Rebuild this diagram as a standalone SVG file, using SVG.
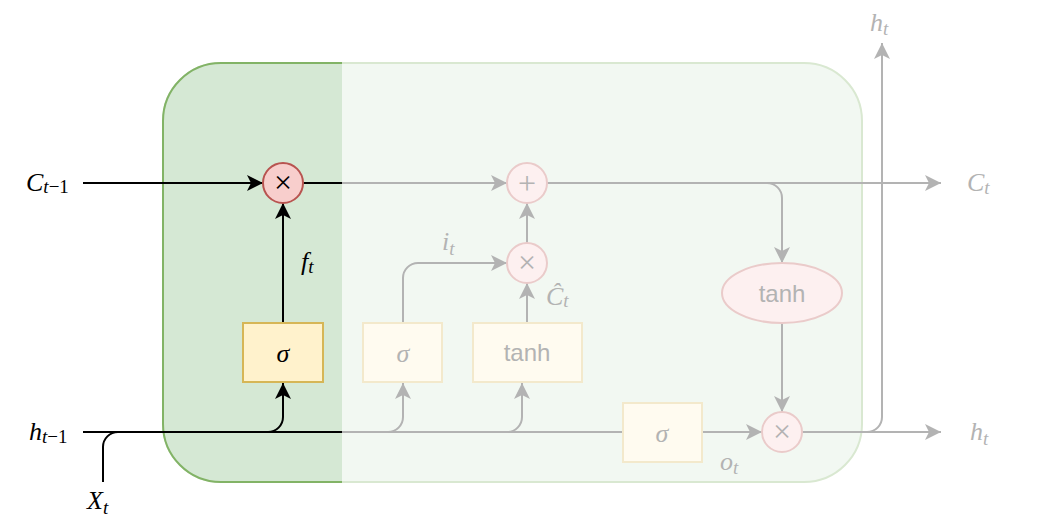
<svg xmlns="http://www.w3.org/2000/svg" width="1039" height="526" viewBox="0 0 1039 526">
<style>
.m{font-family:"Liberation Serif",serif;font-style:italic;font-size:26px;fill:#000}
.g{fill:#b3b3b3}
.s{font-size:19px}
.u{font-style:normal}
.sans{font-family:"Liberation Sans",Arial,sans-serif;font-size:24px;text-anchor:middle;fill:#b3b3b3}
.op{font-family:"Liberation Serif",serif;font-size:32px;text-anchor:middle}
.gate{fill:#fff2cc;stroke:#d6b656;stroke-width:2}
.gatef{fill:#fffbf0;stroke:#f3e9cc;stroke-width:2}
.pt{fill:#f8cecc;stroke:#b85450;stroke-width:2}
.ptf{fill:#fdf0f0;stroke:#eacbca;stroke-width:2}
.bk{fill:none;stroke:#000;stroke-width:2}
.gr{fill:none;stroke:#b3b3b3;stroke-width:2}
</style>
<defs>
<marker id="ab" markerUnits="userSpaceOnUse" markerWidth="16" markerHeight="16" viewBox="0 0 16 16" refX="16" refY="8" orient="auto"><path d="M0,0 L16,8 L0,16 L4,8 Z" fill="#000"/></marker>
<marker id="ag" markerUnits="userSpaceOnUse" markerWidth="16" markerHeight="16" viewBox="0 0 16 16" refX="16" refY="8" orient="auto"><path d="M0,0 L16,8 L0,16 L4,8 Z" fill="#b3b3b3"/></marker>
<clipPath id="leftClip"><rect x="0" y="0" width="342" height="526"/></clipPath>
</defs>

<g id="cell">
<rect x="163" y="63" width="699" height="419" rx="58" ry="58" fill="#f2f8f2" stroke="#d9e8d1" stroke-width="2"/>
<rect clip-path="url(#leftClip)" x="163" y="63" width="699" height="419" rx="58" ry="58" fill="#d5e8d4" stroke="#82b366" stroke-width="2"/>
</g>

<g id="connectors">
<path class="bk" d="M83,183 L263,183" marker-end="url(#ab)"/>
<path class="bk" d="M303,183 L342,183"/>
<path class="bk" d="M283,323 L283,203" marker-end="url(#ab)"/>
<path class="bk" d="M83,432 L342,432" stroke-width="2.5"/>
<path class="bk" d="M268,432 A15,15 0 0 0 283,417 L283,383" marker-end="url(#ab)"/>
<path class="bk" d="M103,482 L103,447 A15,15 0 0 1 118,432 L130,432"/>
<path class="gr" d="M342,183 L507,183" marker-end="url(#ag)"/>
<path class="gr" d="M547,183 L941,183" marker-end="url(#ag)"/>
<path class="gr" d="M547,183 L767,183 A15,15 0 0 1 782,198 L782,263" marker-end="url(#ag)"/>
<path class="gr" d="M782,323 L782,412" marker-end="url(#ag)"/>
<path class="gr" d="M802,432 L941,432" marker-end="url(#ag)"/>
<path class="gr" d="M802,432 L867,432 A15,15 0 0 0 882,417 L882,43" marker-end="url(#ag)"/>
<path class="gr" d="M342,432 L622,432"/>
<path class="gr" d="M388,432 A15,15 0 0 0 403,417 L403,383" marker-end="url(#ag)"/>
<path class="gr" d="M507,432 A15,15 0 0 0 522,417 L522,383" marker-end="url(#ag)"/>
<path class="gr" d="M403,322 L403,278 A15,15 0 0 1 418,263 L507,263" marker-end="url(#ag)"/>
<path class="gr" d="M527,322 L527,283" marker-end="url(#ag)"/>
<path class="gr" d="M527,243 L527,203" marker-end="url(#ag)"/>
<path class="gr" d="M702,432 L762,432" marker-end="url(#ag)"/>
</g>

<g id="forget-mul">
<circle class="pt" cx="283" cy="183" r="20"/>
<text class="op" x="283" y="193">×</text>
</g>
<g id="forget-sigma">
<rect class="gate" x="243" y="323" width="80" height="59"/>
<text class="m" x="283" y="362" text-anchor="middle" font-size="27">σ</text>
</g>
<g id="add">
<circle class="ptf" cx="527" cy="183" r="20"/>
<text class="op g" x="527" y="194">+</text>
</g>
<g id="input-mul">
<circle class="ptf" cx="527" cy="263" r="20"/>
<text class="op g" x="527" y="273">×</text>
</g>
<g id="input-sigma">
<rect class="gatef" x="363" y="323" width="79" height="59"/>
<text class="m g" x="403" y="362" text-anchor="middle" font-size="27">σ</text>
</g>
<g id="input-tanh">
<rect class="gatef" x="473" y="323" width="109" height="59"/>
<text class="sans" x="527" y="361">tanh</text>
</g>
<g id="out-tanh">
<ellipse class="ptf" cx="782" cy="293" rx="60" ry="30"/>
<text class="sans" x="782" y="302">tanh</text>
</g>
<g id="out-sigma">
<rect class="gatef" x="623" y="403" width="79" height="59"/>
<text class="m g" x="662" y="442" text-anchor="middle" font-size="27">σ</text>
</g>
<g id="out-mul">
<circle class="ptf" cx="782" cy="432" r="20"/>
<text class="op g" x="782" y="442">×</text>
</g>

<g id="labels">
<text class="m" x="26" y="191">C<tspan class="s" dy="2">t</tspan><tspan class="s u">−1</tspan></text>
<text class="m" x="29" y="440">h<tspan class="s" dy="3">t</tspan><tspan class="s u">−1</tspan></text>
<text class="m" x="87" y="509">X<tspan class="s" dy="5">t</tspan></text>
<text class="m" x="301" y="270">f<tspan class="s" dy="3">t</tspan></text>
<text class="m g" x="442" y="250">i<tspan class="s" dy="5">t</tspan></text>
<text class="m g" x="546" y="305">Ĉ<tspan class="s" dy="2">t</tspan></text>
<text class="m g" x="720" y="470">o<tspan class="s" dy="4">t</tspan></text>
<text class="m g" x="967" y="191">C<tspan class="s" dy="3">t</tspan></text>
<text class="m g" x="970" y="440">h<tspan class="s" dy="5">t</tspan></text>
<text class="m g" x="870" y="31">h<tspan class="s" dy="4">t</tspan></text>
</g>
</svg>
